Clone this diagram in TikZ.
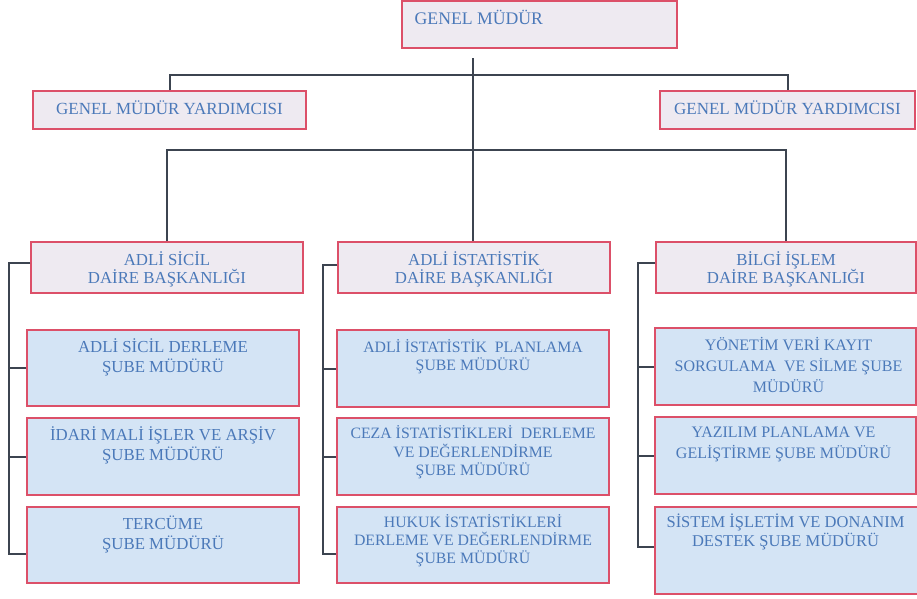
\documentclass[tikz,border=0pt]{standalone}
\usepackage{fontspec}
\setmainfont{Liberation Serif}
\definecolor{bordc}{HTML}{DC5069}
\definecolor{grayf}{HTML}{EEEAF1}
\definecolor{bluef}{HTML}{D4E4F5}
\definecolor{txtc}{HTML}{4B79B9}
\definecolor{connc}{HTML}{3C4450}
\newcommand{\SR}{\rule{0pt}{0.9em}}
\begin{document}
\begin{tikzpicture}[x=1pt,y=-1pt,
  gbox/.style={draw=bordc, line width=1.1pt, fill=grayf, inner sep=0pt},
  bbox/.style={draw=bordc, line width=1.1pt, fill=bluef, inner sep=0pt},
  tx/.style={anchor=north, inner sep=0pt, align=center, text=txtc},
  conn/.style={draw=connc, line width=2pt}]
\useasboundingbox[fill=white] (0,0) rectangle (917,598);

% boxes
\node[gbox, minimum width=275pt, minimum height=47pt] (gm) at (539.5,24.5) {};
\node[gbox, minimum width=273pt, minimum height=38pt] (gyL) at (169.5,110) {};
\node[gbox, minimum width=255pt, minimum height=38pt] (gyR) at (787.5,110) {};
\node[gbox, minimum width=272pt, minimum height=51pt] (dA) at (167,267.5) {};
\node[gbox, minimum width=272pt, minimum height=51pt] (dB) at (474,267.5) {};
\node[gbox, minimum width=260pt, minimum height=51pt] (dC) at (786,267.5) {};
\node[bbox, minimum width=272pt, minimum height=76pt] (A1) at (163,368) {};
\node[bbox, minimum width=272pt, minimum height=77pt] (A2) at (163,456.5) {};
\node[bbox, minimum width=272pt, minimum height=76pt] (A3) at (163,545) {};
\node[bbox, minimum width=272pt, minimum height=77pt] (B1) at (473,368.5) {};
\node[bbox, minimum width=272pt, minimum height=77pt] (B2) at (473,456.5) {};
\node[bbox, minimum width=272pt, minimum height=76pt] (B3) at (473,545) {};
\node[bbox, minimum width=261pt, minimum height=77pt] (C1) at (785.5,366.5) {};
\node[bbox, minimum width=261pt, minimum height=77pt] (C2) at (785.5,455.5) {};
\node[bbox, minimum width=267pt, minimum height=87pt] (C3) at (788.5,550.5) {};

% texts
\node[tx, anchor=north west, font=\fontsize{17.7}{20}\selectfont] (tgm) at ([xshift=13pt,yshift=-8.1pt]gm.north west) {\SR GENEL MÜDÜR};
\node[tx, font=\fontsize{17}{19}\selectfont] (tgyL) at ([yshift=-8.7pt]gyL.north) {\SR GENEL MÜDÜR YARDIMCISI};
\node[tx, font=\fontsize{17}{19}\selectfont] (tgyR) at ([yshift=-8.7pt]gyR.north) {\SR GENEL MÜDÜR YARDIMCISI};
\node[tx, font=\fontsize{16.8}{18.6}\selectfont] (tdA) at ([yshift=-8.4pt]dA.north) {\SR ADLİ SİCİL\\DAİRE BAŞKANLIĞI};
\node[tx, font=\fontsize{16.8}{18.6}\selectfont] (tdB) at ([yshift=-8.4pt]dB.north) {\SR ADLİ İSTATİSTİK\\DAİRE BAŞKANLIĞI};
\node[tx, font=\fontsize{16.8}{18.6}\selectfont] (tdC) at ([yshift=-8.4pt]dC.north) {\SR BİLGİ İŞLEM\\DAİRE BAŞKANLIĞI};

\node[tx, font=\fontsize{16.8}{20}\selectfont] (tA1) at ([yshift=-7.4pt]A1.north) {\SR ADLİ SİCİL DERLEME\\ŞUBE MÜDÜRÜ};
\node[tx, font=\fontsize{16.8}{20}\selectfont] (tA2) at ([yshift=-7.4pt]A2.north) {\SR İDARİ MALİ İŞLER VE ARŞİV\\ŞUBE MÜDÜRÜ};
\node[tx, font=\fontsize{16.8}{20}\selectfont] (tA3) at ([yshift=-7.4pt]A3.north) {\SR TERCÜME\\ŞUBE MÜDÜRÜ};

\node[tx, font=\fontsize{15.8}{18.5}\selectfont] (tB1) at ([yshift=-8.5pt]B1.north) {\SR ADLİ İSTATİSTİK~ PLANLAMA\\ŞUBE MÜDÜRÜ};
\node[tx, font=\fontsize{15.8}{18.3}\selectfont] (tB2) at ([yshift=-7.1pt]B2.north) {\SR CEZA İSTATİSTİKLERİ~ DERLEME\\VE DEĞERLENDİRME\\ŞUBE MÜDÜRÜ};
\node[tx, font=\fontsize{15.8}{18}\selectfont] (tB3) at ([yshift=-6.5pt]B3.north) {\SR HUKUK İSTATİSTİKLERİ\\DERLEME VE DEĞERLENDİRME\\ŞUBE MÜDÜRÜ};

\node[tx, font=\fontsize{16}{21}\selectfont] (tC1) at ([xshift=3pt,yshift=-8.3pt]C1.north) {\SR YÖNETİM VERİ KAYIT\\SORGULAMA~ VE SİLME ŞUBE\\MÜDÜRÜ};
\node[tx, font=\fontsize{16}{21}\selectfont] (tC2) at ([xshift=-2pt,yshift=-6.6pt]C2.north) {\SR YAZILIM PLANLAMA VE\\GELİŞTİRME ŞUBE MÜDÜRÜ};
\node[tx, font=\fontsize{16.5}{19}\selectfont] (tC3) at ([xshift=-3pt,yshift=-6.2pt]C3.north) {\SR SİSTEM İŞLETİM VE DONANIM\\DESTEK ŞUBE MÜDÜRÜ};

% connector helper coordinates
\coordinate (gmtop) at (473,58);
\coordinate (h1) at (473,75);
\coordinate (h2) at (473,150);
\coordinate (sA) at (9,0);
\coordinate (sB) at (323,0);
\coordinate (sC) at (638,0);
\coordinate (eA) at ([yshift=4.5pt]dA.west);
\coordinate (eB) at ([yshift=2.5pt]dB.west);
\coordinate (eC) at ([yshift=4.5pt]dC.west);
\coordinate (eA3) at ([yshift=-9pt]A3.west);
\coordinate (eB3) at ([yshift=-9pt]B3.west);
\coordinate (eC3) at ([yshift=3.5pt]C3.west);

% top connectors
\draw[conn] (gmtop) -- (h2);
\draw[conn] (gyL.north) |- (h1) -| (gyR.north);
\draw[conn] (dA.north) |- (h2) -| (dC.north);
\draw[conn] (h2) -- (h2 |- dB.north);

% column spines
\draw[conn] (eA) -| (eA3 -| sA) -- (eA3);
\draw[conn] (A1.west -| sA) -- (A1.west);
\draw[conn] (A2.west -| sA) -- (A2.west);
\draw[conn] (eB) -| (eB3 -| sB) -- (eB3);
\draw[conn] (B1.west -| sB) -- (B1.west);
\draw[conn] (B2.west -| sB) -- (B2.west);
\draw[conn] (eC) -| (eC3 -| sC) -- (eC3);
\draw[conn] (C1.west -| sC) -- (C1.west);
\draw[conn] (C2.west -| sC) -- (C2.west);
\end{tikzpicture}
\end{document}
